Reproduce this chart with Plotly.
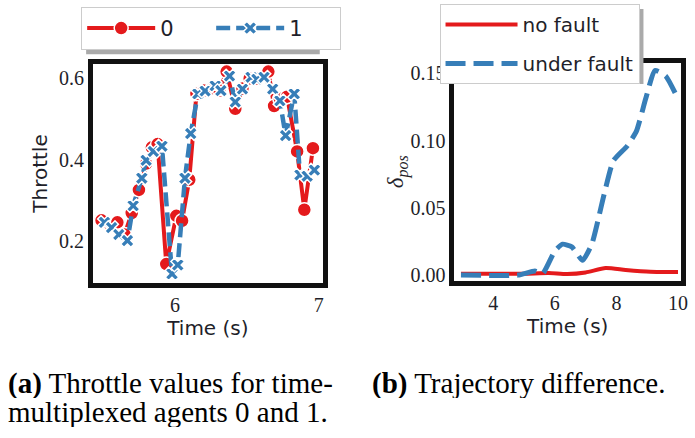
import plotly.graph_objects as go

# ---------------- data: (a) throttle values ----------------
t_agent0 = [5.49, 5.55, 5.60, 5.65, 5.70, 5.75, 5.80, 5.84, 5.88, 5.94, 6.01, 6.05, 6.10, 6.15,
            6.20, 6.26, 6.31, 6.36, 6.42, 6.47, 6.52, 6.57, 6.65, 6.69, 6.73, 6.78, 6.85, 6.90, 6.96]
throttle_agent0 = [0.250, 0.240, 0.245, 0.215, 0.268, 0.325, 0.390, 0.430, 0.438, 0.142, 0.261, 0.249, 0.350, 0.562,
                   0.570, 0.575, 0.570, 0.617, 0.525, 0.575, 0.600, 0.600, 0.617, 0.532, 0.550, 0.555, 0.420, 0.276, 0.428]

t_agent1 = [5.51, 5.56, 5.61, 5.67, 5.71, 5.77, 5.80, 5.85, 5.91, 5.98, 6.02, 6.07, 6.11, 6.16,
            6.21, 6.28, 6.32, 6.38, 6.42, 6.47, 6.53, 6.57, 6.62, 6.68, 6.73, 6.77, 6.83, 6.87, 6.92, 6.97]
throttle_agent1 = [0.245, 0.232, 0.215, 0.200, 0.286, 0.354, 0.398, 0.420, 0.433, 0.118, 0.140, 0.354, 0.464, 0.562,
                   0.569, 0.582, 0.570, 0.606, 0.542, 0.574, 0.603, 0.598, 0.603, 0.574, 0.545, 0.459, 0.562, 0.362, 0.359, 0.374]

# ---------------- data: (b) trajectory difference ----------------
t_nofault = [2.95, 4.0, 5.0, 5.8, 6.4, 7.0, 7.65, 8.3, 9.1, 10.0]
dpos_nofault = [0.001, 0.001, 0.001, 0.0015, 0.0008, 0.002, 0.0052, 0.0038, 0.0025, 0.0023]

t_fault = [2.95, 4.8, 5.35, 5.6, 6.0, 6.25, 6.55, 6.9, 7.2, 7.6, 7.9, 8.35, 8.65, 8.95, 9.25, 9.6, 10.0]
dpos_fault = [0.0, 0.0, 0.003, 0.001, 0.018, 0.023, 0.021, 0.011, 0.023, 0.060, 0.085, 0.096, 0.107, 0.131, 0.152, 0.148, 0.131]

left_xticks = [6, 7]
left_yticks = [0.2, 0.4, 0.6]
right_xticks = [4, 6, 8, 10]
right_yticks = [0.0, 0.05, 0.10, 0.15]

RED = "#e41a1c"
BLUE = "#377eb8"
W, H = 695, 438

fig = go.Figure()

fig.add_trace(go.Scatter(
    x=t_agent0, y=throttle_agent0, name="0", mode="lines+markers",
    line=dict(color=RED, width=4),
    marker=dict(symbol="circle", size=14, color=RED, line=dict(color="white", width=1.5)),
    xaxis="x", yaxis="y", legend="legend"))
fig.add_trace(go.Scatter(
    x=t_agent1, y=throttle_agent1, name="1", mode="lines+markers",
    line=dict(color=BLUE, width=4.5, dash="14px,6px"),
    marker=dict(symbol="x", size=12, color=BLUE, line=dict(color="white", width=1.5)),
    xaxis="x", yaxis="y", legend="legend"))

fig.add_trace(go.Scatter(
    x=t_nofault, y=dpos_nofault, name="no fault", mode="lines",
    line=dict(color=RED, width=4, shape="spline", smoothing=0.6),
    xaxis="x2", yaxis="y2", legend="legend2", legendgroup="a"))
fig.add_trace(go.Scatter(
    x=t_fault, y=dpos_fault, name="under fault", mode="lines",
    line=dict(color=BLUE, width=5, dash="20px,8px", shape="spline", smoothing=0.5),
    xaxis="x2", yaxis="y2", legend="legend2", legendgroup="b"))

INK = "#1f1f2a"
tickfont = dict(family="Liberation Serif", size=20, color=INK)
titlefont = dict(family="DejaVu Sans", size=20, color=INK)
frame = dict(showline=True, mirror=True, linecolor="#111111", linewidth=5,
             showgrid=False, zeroline=False, ticks="", tickfont=tickfont)

def px(xp):
    return xp / W

def py(yp):
    return 1 - yp / H

fig.update_layout(
    width=W, height=H, margin=dict(l=0, r=0, t=0, b=0),
    paper_bgcolor="white", plot_bgcolor="white",
    xaxis=dict(domain=[px(94), px(326)], range=[5.431, 7.028], tickvals=left_xticks,
               title=dict(text="Time (s)", font=titlefont, standoff=2), anchor="y", **frame),
    yaxis=dict(domain=[py(286), py(65)], range=[0.096, 0.635], tickvals=left_yticks,
               tickformat=".1f", title=dict(text="Throttle", font=titlefont, standoff=8),
               anchor="x", **frame),
    xaxis2=dict(domain=[px(459), px(688)], range=[2.736, 10.10], tickvals=right_xticks,
                title=dict(text="Time (s)", font=titlefont, standoff=2), anchor="y2", **frame),
    yaxis2=dict(domain=[py(284), py(63.5)], range=[-0.0042, 0.1578], tickvals=right_yticks,
                tickformat=".2f",
                title=dict(text="<i>δ<sub>pos</sub></i>", font=dict(family="Liberation Serif", size=23, color=INK), standoff=2),
                anchor="x2", **frame),
    legend=dict(x=px(82), y=py(7), xanchor="left", yanchor="top", orientation="h",
                bgcolor="white", bordercolor="#cccccc", borderwidth=1,
                font=dict(family="DejaVu Sans", size=21, color=INK),
                entrywidth=46, itemwidth=68),
    legend2=dict(x=px(444), y=py(4), xanchor="left", yanchor="top",
                 bgcolor="white", bordercolor="#cccccc", borderwidth=1,
                 font=dict(family="DejaVu Sans", size=20, color=INK),
                 traceorder="grouped", tracegroupgap=10, itemwidth=72),
    showlegend=True,
)

# legend drop shadows
fig.add_shape(type="rect", xref="paper", yref="paper", x0=px(87), x1=px(323), y0=py(55), y1=py(12),
              fillcolor="#aaaaaa", line=dict(width=0), layer="above")
fig.add_shape(type="rect", xref="paper", yref="paper", x0=px(449), x1=px(650), y0=py(85), y1=py(9),
              fillcolor="#aaaaaa", line=dict(width=0), layer="above")

capfont = dict(family="Liberation Serif", size=29, color="black")
fig.add_annotation(x=px(6), y=py(387), xref="paper", yref="paper", xanchor="left", yanchor="middle",
                   text="<b>(a)</b> Throttle values for time-", showarrow=False, font=capfont, height=30)
fig.add_annotation(x=px(6), y=py(417), xref="paper", yref="paper", xanchor="left", yanchor="middle",
                   text="multiplexed agents 0 and 1.", showarrow=False, font=capfont, height=30)
fig.add_annotation(x=px(374), y=py(387), xref="paper", yref="paper", xanchor="left", yanchor="middle",
                   text="<b>(b)</b> Trajectory difference.", showarrow=False, font=capfont, height=30)

fig.write_html("out.html")
